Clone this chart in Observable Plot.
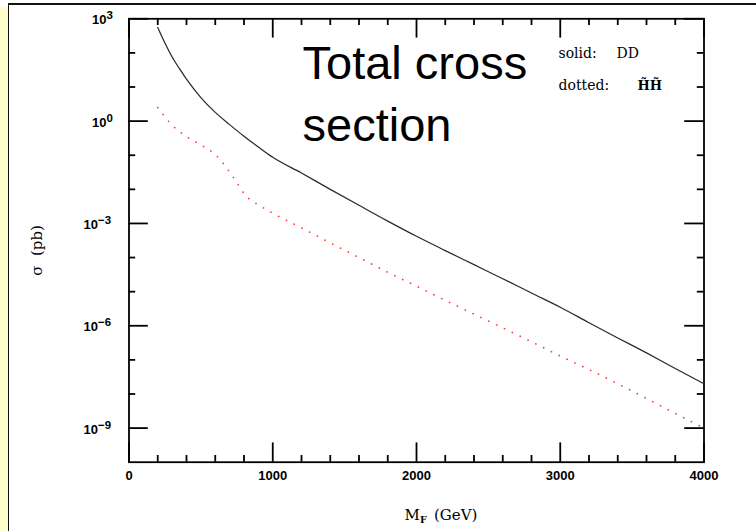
<!DOCTYPE html>
<html><head><meta charset="utf-8">
<script src="https://cdn.jsdelivr.net/npm/d3@7"></script>
<script src="https://cdn.jsdelivr.net/npm/@observablehq/plot@0.6"></script>
<style>
html,body{margin:0;padding:0;background:#fff;}
#wrap{position:relative;width:756px;height:531px;overflow:hidden;}
#yellow{position:absolute;left:0;top:7px;width:7.5px;height:524px;background:#ffffcc;}
#vline{position:absolute;left:7.5px;top:3.3px;width:1.8px;height:528px;background:#111;}
#hline{position:absolute;left:7.5px;top:3.3px;width:749px;height:1.8px;background:#111;}
#chart{position:absolute;left:0;top:0;}
</style></head><body>
<div id="wrap"><div id="yellow"></div><div id="vline"></div><div id="hline"></div><div id="chart"></div></div>
<script>
// Data: mass (GeV) and total cross section (pb)
const massDD  = [200, 250, 300, 350, 400, 500, 600, 700, 800, 900, 1000, 1200, 1400, 1600, 1800, 2000, 2200, 2400, 2600, 2800, 3000, 3200, 3400, 3600, 3800, 4000];
const sigmaDD = [5.6e2, 1.95e2, 7.6e1, 3.5e1, 1.7e1, 4.9, 1.8, 7.9e-1, 3.6e-1, 1.74e-1, 8.7e-2, 3.0e-2, 1.0e-2, 3.4e-3, 1.17e-3, 4.2e-4, 1.6e-4, 6.2e-5, 2.4e-5, 9.1e-6, 3.5e-6, 1.23e-6, 4.4e-7, 1.6e-7, 5.6e-8, 2.0e-8];
const massHH  = [200, 300, 400, 500, 550, 600, 650, 700, 750, 800, 850, 900, 1000, 1200, 1400, 1600, 1800, 2000, 2200, 2400, 2600, 2800, 3000, 3200, 3400, 3600, 3800, 4000];
const sigmaHH = [2.5, 7.6e-1, 3.5e-1, 2.0e-1, 1.5e-1, 1.05e-1, 6.2e-2, 3.2e-2, 1.6e-2, 7.6e-3, 4.7e-3, 3.5e-3, 2.0e-3, 7.4e-4, 2.7e-4, 1.0e-4, 3.7e-5, 1.45e-5, 5.6e-6, 2.2e-6, 8.7e-7, 3.4e-7, 1.3e-7, 5.2e-8, 2.0e-8, 7.4e-9, 2.7e-9, 1.0e-9];

const xMajorTicks = [0, 1000, 2000, 3000, 4000];
const xTickLabels = ["0", "1000", "2000", "3000", "4000"];
const xMinorTicks = [200, 400, 600, 800, 1200, 1400, 1600, 1800, 2200, 2400, 2600, 2800, 3200, 3400, 3600, 3800];
const yMajorTicks = [1e3, 1e0, 1e-3, 1e-6, 1e-9];
const yTickBase = ["10", "10", "10", "10", "10"];
const yTickExp  = ["3", "0", "\u22123", "\u22126", "\u22129"];
const yMinorTicks = [1e2, 1e1, 1e-1, 1e-2, 1e-4, 1e-5, 1e-7, 1e-8];

const dd = massDD.map((m, i) => ({m, s: sigmaDD[i]}));
const hh = massHH.map((m, i) => ({m, s: sigmaHH[i]}));
const yLab = yMajorTicks.map((v, i) => ({v, b: yTickBase[i], e: yTickExp[i]}));
const yPos = yLab.filter(d => !d.e.startsWith("\u2212"));
const yNeg = yLab.filter(d => d.e.startsWith("\u2212"));

const W = 756, H = 531, mL = 128.5, mR = 52.5, mT = 18.3, mB = 69.3;
const pw = W - mL - mR, ph = H - mT - mB;
const majLen = 19.3, minLen = 6.7, tw = 1.8;
const serif = "DejaVu Serif";

const chart = Plot.plot({
  width: W, height: H,
  marginLeft: mL, marginRight: mR, marginTop: mT, marginBottom: mB,
  style: {background: "transparent", fontFamily: "Liberation Sans", overflow: "visible"},
  x: {domain: [0, 4000], axis: null},
  y: {type: "log", domain: [1e-10, 1e3], axis: null},
  marks: [
    // ticks (inward, all four sides)
    Plot.tickX(xMajorTicks, {x: d => d, insetTop: ph - majLen, stroke: "#000", strokeWidth: tw}),
    Plot.tickX(xMajorTicks, {x: d => d, insetBottom: ph - majLen, stroke: "#000", strokeWidth: tw}),
    Plot.tickX(xMinorTicks, {x: d => d, insetTop: ph - minLen, stroke: "#000", strokeWidth: tw}),
    Plot.tickX(xMinorTicks, {x: d => d, insetBottom: ph - minLen, stroke: "#000", strokeWidth: tw}),
    Plot.tickY(yMajorTicks, {y: d => d, insetRight: pw - majLen, stroke: "#000", strokeWidth: tw}),
    Plot.tickY(yMajorTicks, {y: d => d, insetLeft: pw - majLen, stroke: "#000", strokeWidth: tw}),
    Plot.tickY(yMinorTicks, {y: d => d, insetRight: pw - minLen, stroke: "#000", strokeWidth: tw}),
    Plot.tickY(yMinorTicks, {y: d => d, insetLeft: pw - minLen, stroke: "#000", strokeWidth: tw}),
    Plot.frame({stroke: "#000", strokeWidth: tw}),
    // curves
    Plot.line(dd, {x: "m", y: "s", stroke: "#2a2a2a", strokeWidth: 1.25, curve: "monotone-x"}),
    Plot.line(hh, {x: "m", y: "s", stroke: "#ff3b3b", strokeWidth: 1.7, strokeDasharray: "0.1 8.6", strokeLinecap: "round", curve: "monotone-x"}),
    // x tick labels
    Plot.text(xMajorTicks, {x: d => d, text: (d, i) => xTickLabels[i], frameAnchor: "bottom", lineAnchor: "bottom", dy: 17.3, fontSize: 13, fontWeight: "bold", fill: "#000"}),
    // y tick labels: base and exponent
    Plot.text(yPos, {y: "v", text: "b", frameAnchor: "left", textAnchor: "end", lineAnchor: "bottom", dx: -22.5, dy: 5.5, fontSize: 13, fontWeight: "bold", fill: "#000"}),
    Plot.text(yPos, {y: "v", text: "e", frameAnchor: "left", textAnchor: "start", lineAnchor: "bottom", dx: -22.5, dy: 0.5, fontSize: 11.5, fontWeight: "bold", fill: "#000"}),
    Plot.text(yNeg, {y: "v", text: "b", frameAnchor: "left", textAnchor: "end", lineAnchor: "bottom", dx: -31, dy: 5.5, fontSize: 13, fontWeight: "bold", fill: "#000"}),
    Plot.text(yNeg, {y: "v", text: "e", frameAnchor: "left", textAnchor: "start", lineAnchor: "bottom", dx: -31, dy: 0.5, fontSize: 11.5, fontWeight: "bold", fill: "#000"}),
    // axis titles
    Plot.text(["M"], {frameAnchor: "bottom", textAnchor: "start", lineAnchor: "bottom", dx: -12, dy: 57.3, fontSize: 15, fontFamily: serif, fill: "#000"}),
    Plot.text(["F"], {frameAnchor: "bottom", textAnchor: "start", lineAnchor: "bottom", dx: 3.5, dy: 60.5, fontSize: 9.5, fontWeight: "bold", fontFamily: serif, fill: "#000"}),
    Plot.text(["(GeV)"], {frameAnchor: "bottom", textAnchor: "start", lineAnchor: "bottom", dx: 17.5, dy: 57.3, fontSize: 15, fontFamily: serif, fill: "#000"}),
    Plot.text(["\u03c3\u00a0\u00a0(pb)"], {frameAnchor: "left", textAnchor: "middle", lineAnchor: "bottom", rotate: -90, dx: -87.5, dy: 10, fontSize: 15, fontFamily: serif, fill: "#000"}),
    // annotations
    Plot.text(["Total cross"], {frameAnchor: "top-left", textAnchor: "start", lineAnchor: "bottom", dx: 173.5, dy: 59.7, fontSize: 47, fill: "#000"}),
    Plot.text(["section"], {frameAnchor: "top-left", textAnchor: "start", lineAnchor: "bottom", dx: 173.5, dy: 121.7, fontSize: 47, fill: "#000"}),
    Plot.text(["solid:"], {frameAnchor: "top-left", textAnchor: "start", lineAnchor: "bottom", dx: 429.5, dy: 39, fontSize: 14, fontFamily: serif, fill: "#000"}),
    Plot.text(["DD"], {frameAnchor: "top-left", textAnchor: "start", lineAnchor: "bottom", dx: 487.5, dy: 39, fontSize: 14, fontFamily: serif, fill: "#000"}),
    Plot.text(["dotted:"], {frameAnchor: "top-left", textAnchor: "start", lineAnchor: "bottom", dx: 429.5, dy: 71, fontSize: 14, fontFamily: serif, fill: "#000"}),
    Plot.text(["H\u0303H\u0303"], {frameAnchor: "top-left", textAnchor: "start", lineAnchor: "bottom", dx: 508.5, dy: 71, fontSize: 13, fontWeight: "bold", fontFamily: serif, fill: "#000"})
  ]
});
document.getElementById("chart").appendChild(chart);
</script>
</body></html>
